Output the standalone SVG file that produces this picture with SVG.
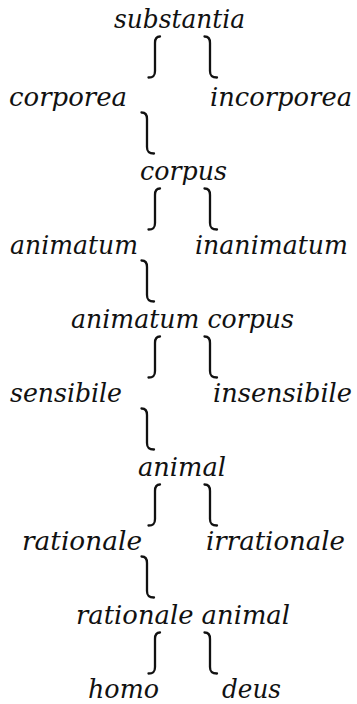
<svg xmlns="http://www.w3.org/2000/svg" width="357" height="704" viewBox="0 0 357 704">
<style>
.t{font-family:"DejaVu Serif","Liberation Serif",serif;font-style:italic;font-size:25.5px;fill:#111}
.b{fill:none;stroke:#111;stroke-width:2.3;stroke-linecap:round}
</style>
<defs>
<path id="L" d="M5,0.5 C1.5,0.5 0,2.5 0,7 L0,35 C0,39.5 -1.5,41.5 -6.5,41.5"/>
<path id="R" d="M-5.5,0.5 C-1.5,0.5 0,2.5 0,7 L0,35 C0,39.5 1.5,41.5 7,41.5"/>
</defs>
<rect width="357" height="704" fill="#fff"/>
<g id="connectors" class="b">
<use href="#L" x="155" y="36"/><use href="#R" x="210" y="36"/>
<use href="#R" x="147" y="112"/>
<use href="#L" x="155" y="188"/><use href="#R" x="210" y="188"/>
<use href="#R" x="147" y="260"/>
<use href="#L" x="155" y="336"/><use href="#R" x="210" y="336"/>
<use href="#R" x="147" y="408"/>
<use href="#L" x="155" y="484"/><use href="#R" x="210" y="484"/>
<use href="#R" x="147" y="556"/>
<use href="#L" x="155" y="632"/><use href="#R" x="210" y="632"/>
</g>
<g class="t">
<g id="n-substantia"><text x="114" y="28" textLength="131" lengthAdjust="spacingAndGlyphs">substantia</text></g>
<g id="n-corporea"><text x="9" y="106" textLength="118" lengthAdjust="spacingAndGlyphs">corporea</text></g>
<g id="n-incorporea"><text x="210" y="106" textLength="142" lengthAdjust="spacingAndGlyphs">incorporea</text></g>
<g id="n-corpus"><text x="140" y="180" textLength="87" lengthAdjust="spacingAndGlyphs">corpus</text></g>
<g id="n-animatum"><text x="10" y="254" textLength="128" lengthAdjust="spacingAndGlyphs">animatum</text></g>
<g id="n-inanimatum"><text x="195" y="254" textLength="153" lengthAdjust="spacingAndGlyphs">inanimatum</text></g>
<g id="n-animatum-corpus"><text x="71" y="328" textLength="223" lengthAdjust="spacingAndGlyphs">animatum corpus</text></g>
<g id="n-sensibile"><text x="10" y="402" textLength="112" lengthAdjust="spacingAndGlyphs">sensibile</text></g>
<g id="n-insensibile"><text x="213" y="402" textLength="139" lengthAdjust="spacingAndGlyphs">insensibile</text></g>
<g id="n-animal"><text x="138" y="476" textLength="88" lengthAdjust="spacingAndGlyphs">animal</text></g>
<g id="n-rationale"><text x="22" y="550" textLength="120" lengthAdjust="spacingAndGlyphs">rationale</text></g>
<g id="n-irrationale"><text x="206" y="550" textLength="139" lengthAdjust="spacingAndGlyphs">irrationale</text></g>
<g id="n-rationale-animal"><text x="76" y="624" textLength="214" lengthAdjust="spacingAndGlyphs">rationale animal</text></g>
<g id="n-homo"><text x="88" y="698" textLength="71" lengthAdjust="spacingAndGlyphs">homo</text></g>
<g id="n-deus"><text x="222" y="698" textLength="59" lengthAdjust="spacingAndGlyphs">deus</text></g>
</g>
</svg>
